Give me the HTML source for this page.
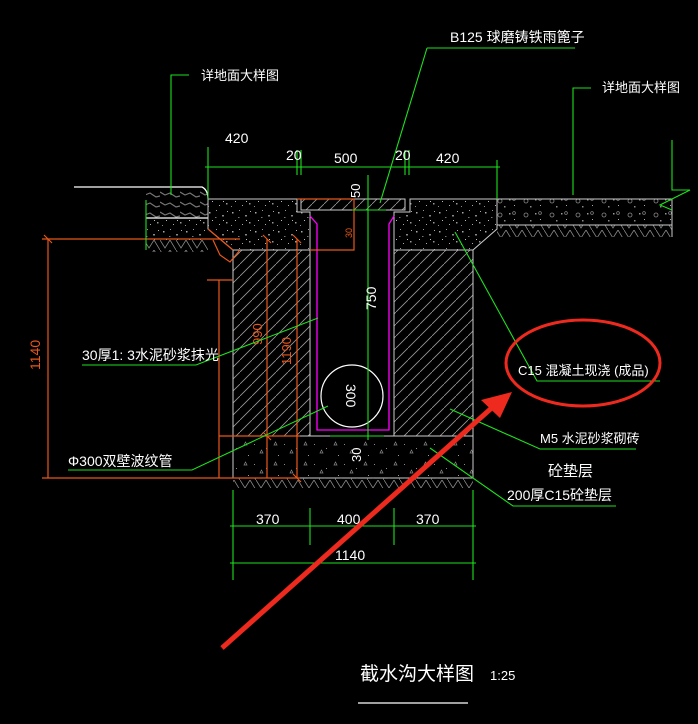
<!DOCTYPE html>
<html><head><meta charset="utf-8"><style>
html,body{margin:0;padding:0;background:#000;}
svg{display:block}
text{font-family:"Liberation Sans","Noto Sans CJK SC",sans-serif;}
</style></head><body>
<svg width="698" height="724" viewBox="0 0 698 724" xmlns="http://www.w3.org/2000/svg">
<defs>
<pattern id="hatch" width="12" height="12" patternUnits="userSpaceOnUse">
<path d="M0 12 L12 0" stroke="#9a9a9a" stroke-width="0.8"/>
</pattern>
<pattern id="speck" width="23" height="19" patternUnits="userSpaceOnUse">
<rect x="2" y="3" width="1.5" height="1.5" fill="#aaa"/><rect x="9" y="1" width="1" height="1" fill="#999"/>
<rect x="15" y="6" width="2" height="1.5" fill="#888"/><rect x="5" y="11" width="1" height="1" fill="#bbb"/>
<rect x="19" y="13" width="1.5" height="1.5" fill="#999"/><rect x="12" y="15" width="1" height="1" fill="#aaa"/>
<rect x="1" y="16" width="1" height="1" fill="#888"/><rect x="20" y="2" width="1" height="1" fill="#aaa"/>
<rect x="8" y="8" width="1.5" height="1" fill="#777"/><rect x="16" y="11" width="1" height="1" fill="#bbb"/>
</pattern>
<pattern id="pave" width="26" height="14" patternUnits="userSpaceOnUse">
<circle cx="6" cy="5" r="2" fill="none" stroke="#888" stroke-width="0.8"/>
<rect x="15" y="3" width="1.5" height="1.5" fill="#999"/><rect x="20" y="9" width="1" height="1" fill="#aaa"/>
<rect x="10" y="10" width="1.5" height="1.5" fill="#888"/><circle cx="20" cy="3" r="1.4" fill="none" stroke="#888" stroke-width="0.7"/>
</pattern>
<pattern id="ground" width="16" height="10" patternUnits="userSpaceOnUse">
<path d="M0 0 L5 8 L10 0 M10 0 L16 10" stroke="#888" stroke-width="0.8" fill="none"/>
</pattern>
<pattern id="cush" width="30" height="20" patternUnits="userSpaceOnUse">
<path d="M4 5 l3 0 l-1.5 -3z M20 13 l3 0 l-1.5 -3z" stroke="#888" stroke-width="0.7" fill="none"/>
<rect x="14" y="4" width="1" height="1" fill="#888"/><rect x="8" y="15" width="1" height="1" fill="#999"/><rect x="26" y="8" width="1" height="1" fill="#888"/>
</pattern>
<pattern id="stone" width="20" height="10" patternUnits="userSpaceOnUse">
<path d="M0 2 l5 3 l5 -2 l6 4 l4 -1" stroke="#777" stroke-width="1.2" fill="none"/>
</pattern>
</defs>
<rect width="698" height="724" fill="#000"/>

<!-- left paving -->
<rect x="146" y="187" width="62" height="31" fill="url(#stone)"/>
<rect x="146" y="218" width="62" height="22" fill="url(#speck)"/>
<rect x="146" y="240" width="62" height="12" fill="url(#ground)"/>
<path d="M74 187 L202 187 Q208 190 208 199" stroke="#fff" stroke-width="1.3" fill="none"/>
<path d="M146 218 L208 218" stroke="#fff" stroke-width="1.3"/>

<!-- top slab -->
<path d="M208 199 L297 199 L297 212 L310 212 L310 250 L233 250 L208 229 Z" fill="url(#speck)" stroke="#ccc" stroke-width="1"/>
<path d="M394 212 L410 212 L410 199 L497 199 L497 229 L473 250 L394 250 Z" fill="url(#speck)" stroke="#ccc" stroke-width="1"/>
<!-- right paving -->
<rect x="497" y="199" width="175" height="26" fill="url(#pave)"/>
<rect x="497" y="225" width="175" height="12" fill="url(#ground)"/>
<path d="M497 199 L672 199 M497 225 L672 225 M672 199 L672 237" stroke="#ccc" stroke-width="1" fill="none"/>
<!-- grate -->
<rect x="301" y="199" width="104" height="11" fill="url(#hatch)" stroke="#ccc" stroke-width="1"/>

<!-- walls -->
<rect x="233" y="250" width="77" height="186" fill="url(#hatch)" stroke="#ccc" stroke-width="1"/>
<rect x="394" y="250" width="79" height="186" fill="url(#hatch)" stroke="#ccc" stroke-width="1"/>
<path d="M310 250 L310 436 M394 250 L394 436" stroke="#ccc"/>
<!-- cushion -->
<rect x="233" y="436" width="240" height="42" fill="url(#cush)" stroke="#ccc" stroke-width="1"/>
<rect x="233" y="478" width="240" height="10" fill="url(#ground)"/>

<!-- magenta liner -->
<path d="M310 216 L317 224 L317 430 L389 430 L389 224 L394 216" stroke="#f0f" stroke-width="1.3" fill="none"/>
<circle cx="352" cy="396" r="31" fill="none" stroke="#fff" stroke-width="1.2"/>

<!-- orange dims -->
<g stroke="#e8581a" stroke-width="1.2" fill="none">
<path d="M42 239 L240 239 M48 239 L48 478 M42 478 L300 478"/>
<path d="M208 229 L233 250 M219 280 L219 436 M219 436 L300 436 M219 478 L219 436"/>
<path d="M213 240 L220 255 L230 262 L240 250"/>
<path d="M207 280 L233 280"/>
<path d="M267 239 L267 478 M297 239 L297 478"/>
<path d="M297 199 L354 199 L354 250 L310 250"/>
<path d="M44 235 L52 243 M263 235 L271 243 M293 235 L301 243 M293 474 L301 482 M263 432 L271 440"/>
</g>
<text transform="translate(40,370) rotate(-90)" fill="#e8581a" font-size="14">1140</text>
<text transform="translate(262,345) rotate(-90)" fill="#e8581a" font-size="13">990</text>
<text transform="translate(291,365) rotate(-90)" fill="#e8581a" font-size="13">1190</text>
<text transform="translate(352,238) rotate(-90)" fill="#e8581a" font-size="9">30</text>

<!-- green lines -->
<g stroke="#1ee01e" stroke-width="1.1" fill="none">
<path d="M208 147 L208 199 M497 160 L497 199 M205 167 L500 167 M297 150 L297 175 M301 150 L301 175 M405 150 L405 175 M409 150 L409 175"/>
<path d="M368 175 L368 440 M352 210 L386 210 M330 436 L384 436"/>
<path d="M171 195 L171 75 L189 75 M146 200 L146 250"/>
<path d="M573 195 L573 88 L591 88 M672 140 L672 190 L690 190 L660 205 L672 210"/>
<path d="M427 48 L575 48 M427 48 L380 203"/>
<path d="M82 365 L196 365 L318 318"/>
<path d="M68 470 L192 470 L328 406"/>
<path d="M455 232 L537 381 L660 381"/>
<path d="M450 409 L540 449 L636 449"/>
<path d="M430 448 L513 506 L616 506"/>
<path d="M233 490 L233 580 M473 490 L473 580 M310 508 L310 545 M394 508 L394 545 M230 526 L476 526 M230 563 L476 563"/>
</g>

<!-- white texts -->
<g fill="#fff" font-size="14">
<text x="450" y="42">B125 球磨铸铁雨篦子</text>
<text x="201" y="80" font-size="13">详地面大样图</text>
<text x="602" y="92" font-size="13">详地面大样图</text>
<text x="225" y="143">420</text>
<text x="286" y="160">20</text>
<text x="334" y="163">500</text>
<text x="395" y="160">20</text>
<text x="436" y="163">420</text>
<text x="82" y="360">30厚1: 3水泥砂浆抹光</text>
<text x="68" y="466">Φ300双壁波纹管</text>
<text x="518" y="375" font-size="13">C15 混凝土现浇 (成品)</text>
<text x="540" y="443" font-size="13">M5 水泥砂浆砌砖</text>
<text x="548" y="476" font-size="15">砼垫层</text>
<text x="507" y="500" font-size="14">200厚C15砼垫层</text>
<text x="256" y="524">370</text>
<text x="337" y="524">400</text>
<text x="416" y="524">370</text>
<text x="335" y="560">1140</text>
<text x="360" y="680" font-size="19">截水沟大样图</text>
<text x="490" y="680" font-size="13">1:25</text>
<text transform="translate(360,198) rotate(-90)" font-size="13">50</text>
<text transform="translate(376,310) rotate(-90)" font-size="14">750</text>
<text transform="translate(346,384) rotate(90)" font-size="14">300</text>
<text transform="translate(361,462) rotate(-90)" font-size="13">30</text>
</g>
<path d="M358 703 L468 703" stroke="#fff" stroke-width="1.3"/>

<!-- red annotation -->
<ellipse cx="583" cy="363" rx="77" ry="43" fill="none" stroke="#ee2a1f" stroke-width="3"/>
<path d="M222 648 L495 405" stroke="#ee2a1f" stroke-width="5"/>
<path d="M512 392 L481 400 L500 418 Z" fill="#ee2a1f"/>
</svg>
</body></html>
